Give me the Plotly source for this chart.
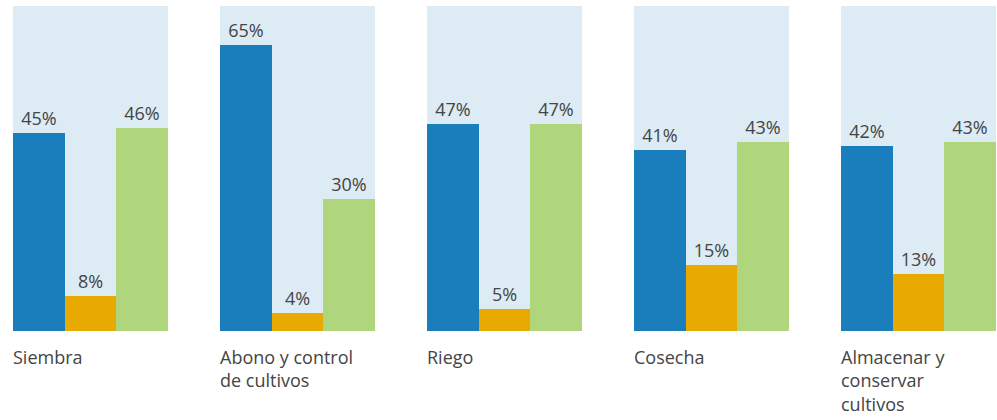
import plotly.graph_objects as go

categories = ["Siembra", "Abono y control<br>de cultivos", "Riego", "Cosecha", "Almacenar y<br>conservar<br>cultivos"]
series_a = [45, 65, 47, 41, 42]
series_b = [8, 4, 5, 15, 13]
series_c = [46, 30, 47, 43, 43]
colors = ["#1b7ebc", "#e8aa00", "#afd67c"]

W, H = 997, 420
fig = go.Figure()
n = len(categories)
for i in range(n):
    x0 = (13 + 207 * i) / W
    x1 = (168 + 207 * i) / W
    xa = "x" if i == 0 else f"x{i+1}"
    ya = "y" if i == 0 else f"y{i+1}"
    vals = [series_a[i], series_b[i], series_c[i]]
    fig.add_trace(go.Bar(
        x=[0, 1, 2], y=vals, marker=dict(color=colors, line=dict(width=0)),
        text=[f"{v}%" for v in vals], textposition="outside", cliponaxis=False,
        textfont=dict(size=18, color="#444444"),
        xaxis=xa, yaxis=ya, showlegend=False, hoverinfo="skip",
    ))
    suffix = "" if i == 0 else str(i + 1)
    fig.layout["xaxis" + suffix] = dict(domain=[x0, x1], range=[-0.5, 2.5], visible=False, fixedrange=True, anchor=ya)
    fig.layout["yaxis" + suffix] = dict(domain=[(H - 331) / H, (H - 6) / H], range=[0, 73.8], visible=False, fixedrange=True, anchor=xa)
    fig.add_annotation(
        x=(11 + 207 * i) / W, y=(H - 343) / H, xref="paper", yref="paper", xanchor="left", yanchor="top",
        text=categories[i], showarrow=False, align="left",
        font=dict(size=18, color="#444444"),
    )

fig.update_layout(
    width=W, height=H, margin=dict(l=0, r=0, t=0, b=0),
    bargap=0, plot_bgcolor="#ddebf5", paper_bgcolor="white",
    font=dict(family="Open Sans, sans-serif", color="#444444"),
)
fig.write_html("out.html", config={"displayModeBar": False},
               post_script="document.body.style.margin='0';")
